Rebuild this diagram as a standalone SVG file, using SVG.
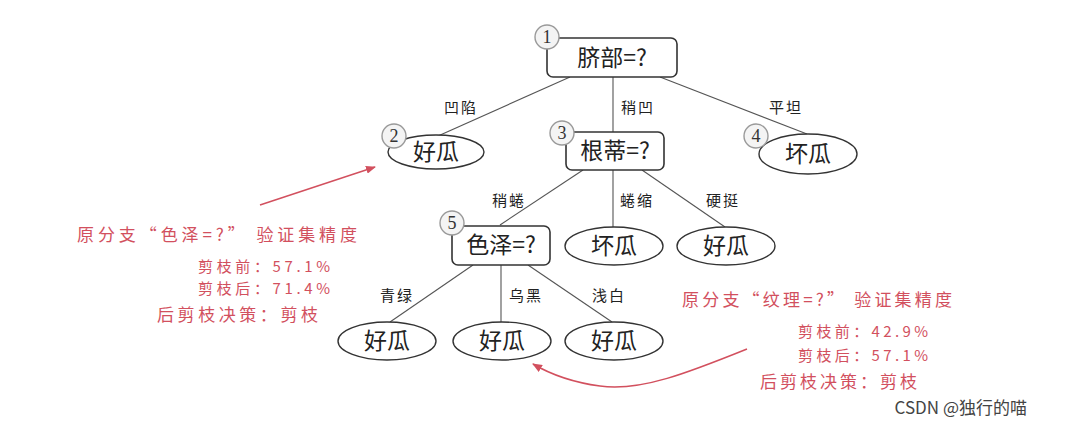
<svg xmlns="http://www.w3.org/2000/svg" width="1065" height="427" viewBox="0 0 1065 427">
<defs>
<style>
.box{fill:#fff;stroke:#333;stroke-width:1.6}
.leaf{fill:#fff;stroke:#333;stroke-width:1.4}
.num{fill:#f4f4f4;stroke:#9a9a9a;stroke-width:1.4}
.numt{font-family:"Liberation Serif",serif;font-size:18px;fill:#333;text-anchor:middle}
.nt{font-family:"Noto Sans CJK SC",sans-serif;font-size:23px;fill:#222;text-anchor:middle}
.el{font-family:"Noto Sans CJK SC",sans-serif;font-size:15px;fill:#222;text-anchor:middle;letter-spacing:2px}
.edge{stroke:#555;stroke-width:1.1;fill:none}
.red{font-family:"Noto Sans CJK SC",sans-serif;font-size:17px;fill:#d2505e}
.reds{font-family:"Noto Sans CJK SC",sans-serif;font-size:15px;fill:#d2505e}
.ra{stroke:#d2505e;stroke-width:1.5;fill:none}
</style>
<marker id="ah" markerWidth="10" markerHeight="8" refX="9" refY="4" orient="auto" markerUnits="userSpaceOnUse">
<path d="M0,0 L10,4 L0,8 z" fill="#d2505e"/>
</marker>
</defs>
<rect width="1065" height="427" fill="#fff"/>
<g id="connectors">
<line class="edge" x1="570" y1="77" x2="438" y2="136"/>
<line class="edge" x1="613" y1="77" x2="613" y2="132"/>
<line class="edge" x1="660" y1="77" x2="807" y2="134"/>
<line class="edge" x1="583" y1="170" x2="500" y2="225"/>
<line class="edge" x1="613" y1="170" x2="613" y2="227"/>
<line class="edge" x1="642" y1="170" x2="725" y2="227"/>
<line class="edge" x1="473" y1="265" x2="390" y2="322"/>
<line class="edge" x1="501" y1="265" x2="501" y2="322"/>
<line class="edge" x1="528" y1="265" x2="612" y2="322"/>
<text class="el" x="461" y="113">凹陷</text>
<text class="el" x="638" y="113">稍凹</text>
<text class="el" x="786" y="113">平坦</text>
<text class="el" x="509" y="206">稍蜷</text>
<text class="el" x="637" y="206">蜷缩</text>
<text class="el" x="723" y="206">硬挺</text>
<text class="el" x="397" y="301">青绿</text>
<text class="el" x="526" y="301">乌黑</text>
<text class="el" x="609" y="301">浅白</text>
</g>
<g id="node1">
<rect class="box" x="547" y="38" width="130" height="39" rx="6"/>
<text class="nt" x="612" y="66">脐部=?</text>
<circle class="num" cx="547" cy="37" r="12"/>
<text class="numt" x="547" y="43">1</text>
</g>
<g id="node2">
<ellipse class="leaf" cx="436" cy="152" rx="48" ry="17"/>
<text class="nt" x="436" y="160">好瓜</text>
<circle class="num" cx="394" cy="136" r="12"/>
<text class="numt" x="394" y="142">2</text>
</g>
<g id="node3">
<rect class="box" x="566" y="132" width="98" height="38" rx="6"/>
<text class="nt" x="615" y="159">根蒂=?</text>
<circle class="num" cx="562" cy="133" r="12"/>
<text class="numt" x="562" y="139">3</text>
</g>
<g id="node4">
<ellipse class="leaf" cx="808" cy="154" rx="49" ry="20"/>
<text class="nt" x="808" y="162">坏瓜</text>
<circle class="num" cx="756" cy="136" r="12"/>
<text class="numt" x="756" y="142">4</text>
</g>
<g id="node5">
<rect class="box" x="452" y="226" width="98" height="39" rx="6"/>
<text class="nt" x="501" y="253">色泽=?</text>
<circle class="num" cx="452" cy="223" r="12"/>
<text class="numt" x="452" y="229">5</text>
</g>
<g id="node6">
<ellipse class="leaf" cx="614" cy="246" rx="49" ry="19"/>
<text class="nt" x="614" y="254">坏瓜</text>
</g>
<g id="node7">
<ellipse class="leaf" cx="726" cy="246" rx="49" ry="19"/>
<text class="nt" x="726" y="254">好瓜</text>
</g>
<g id="node8">
<ellipse class="leaf" cx="387" cy="341" rx="49" ry="19"/>
<text class="nt" x="387" y="349">好瓜</text>
</g>
<g id="node9">
<ellipse class="leaf" cx="502" cy="341" rx="49" ry="19"/>
<text class="nt" x="502" y="349">好瓜</text>
</g>
<g id="node10">
<ellipse class="leaf" cx="614" cy="341" rx="49" ry="19"/>
<text class="nt" x="614" y="349">好瓜</text>
</g>
<g id="annot-left">
<text class="red" x="77" y="241" textLength="280" lengthAdjust="spacing">原分支“色泽=?” 验证集精度</text>
<text class="reds" x="198" y="272" textLength="132" lengthAdjust="spacing">剪枝前：57.1%</text>
<text class="reds" x="198" y="294" textLength="132" lengthAdjust="spacing">剪枝后：71.4%</text>
<text class="red" x="157" y="321" textLength="161" lengthAdjust="spacing">后剪枝决策：剪枝</text>
<line class="ra" x1="260" y1="205" x2="375" y2="167" marker-end="url(#ah)"/>
</g>
<g id="annot-right">
<text class="red" x="682" y="306" textLength="270" lengthAdjust="spacing">原分支“纹理=?” 验证集精度</text>
<text class="reds" x="798" y="337" textLength="130" lengthAdjust="spacing">剪枝前：42.9%</text>
<text class="reds" x="798" y="361" textLength="130" lengthAdjust="spacing">剪枝后：57.1%</text>
<text class="red" x="760" y="388" textLength="157" lengthAdjust="spacing">后剪枝决策：剪枝</text>
<path class="ra" d="M747,349 C690,372 640,392 600,386 C570,382 550,374 533,364" marker-end="url(#ah)"/>
</g>
<text x="1027" y="414" text-anchor="end" font-family="'Noto Sans CJK SC',sans-serif" font-size="17" fill="#444">CSDN @独行的喵</text>
</svg>
